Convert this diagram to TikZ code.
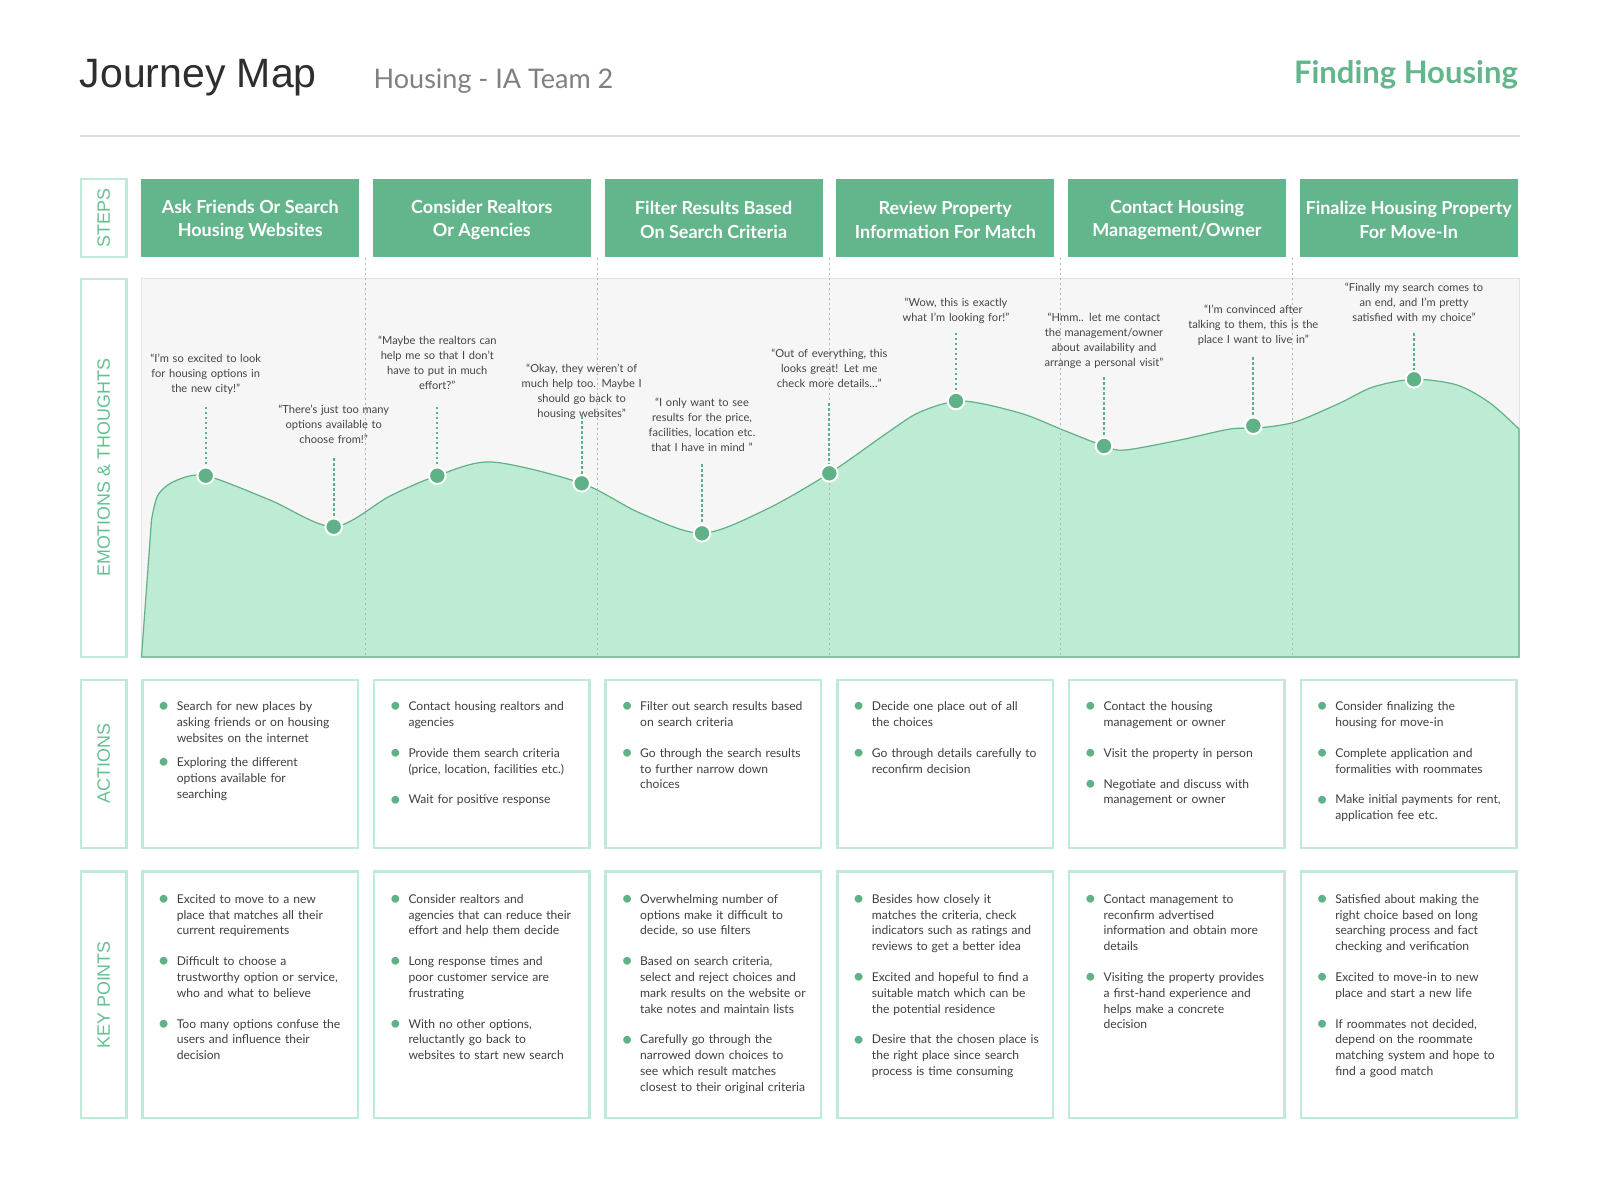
\documentclass[tikz,border=0pt]{standalone}
\usepackage{fontspec}
\setmainfont{Lato}
\newfontfamily\arialfont{Liberation Sans}

\definecolor{stepgreen}{HTML}{63B58B}
\definecolor{dotgreen}{HTML}{60B187}
\definecolor{areafill}{HTML}{BEEBD4}
\definecolor{mint}{HTML}{BDEBD6}
\definecolor{labelgreen}{HTML}{62C290}
\definecolor{paneltone}{HTML}{F6F6F6}
\definecolor{panelline}{HTML}{E4E4E4}
\definecolor{bodytext}{HTML}{3F3F3F}
\definecolor{quotetext}{HTML}{444444}
\definecolor{sepgray}{HTML}{B4B4B4}
\definecolor{titlegray}{HTML}{2E2E2E}
\definecolor{subgray}{HTML}{808080}
\definecolor{rulegray}{HTML}{DEDEDE}

% green bullet hanging to the left of an item
\newcommand\bdot{\leavevmode\llap{\textcolor{dotgreen}{\raisebox{-2.2pt}{\fontsize{21}{0}\selectfont\textbullet}}\hspace{7pt}}}
\newcommand\bnext[1][15pt]{\par\vspace{#1}\noindent\bdot}

\tikzset{
  stepbox/.style={fill=stepgreen, inner sep=0,
    minimum width=218, minimum height=78.5, anchor=north west},
  steptext/.style={align=center, inner sep=0, text=white,
    font=\fontsize{18}{23.5}\selectfont\bfseries},
  labelbox/.style={draw=mint, line width=2.5, rotate=90, inner sep=0,
    minimum height=45.5, text=labelgreen,
    font=\arialfont\fontsize{17.9}{17.9}\selectfont},
  cardbox/.style={draw=mint, line width=2.5, inner sep=0, anchor=north west,
    minimum width=215.5},
  listtext/.style={anchor=base west, text width=178, align=left, inner sep=0,
    text=bodytext, font=\fontsize{12.1}{15.8}\selectfont},
  quote/.style={anchor=base, text width=190, align=center, inner sep=0,
    text=quotetext, font=\fontsize{11.1}{15}\selectfont},
  dotmark/.style={circle, fill=dotgreen, draw=white, line width=2,
    minimum size=16.6, inner sep=0},
  dashlink/.style={dotgreen, line width=2, dash pattern=on 2.5pt off 2.5pt},
  separator/.style={sepgray, line width=1, dash pattern=on 1.5pt off 3.5pt},
}

\begin{document}
\begin{tikzpicture}[x=1pt,y=-1pt]
\path[use as bounding box, fill=white] (0,0) rectangle (1600,1200);

% header
\node[anchor=base west, inner sep=0, text=titlegray,
      font=\arialfont\fontsize{41}{41}\selectfont] (title) at (79.6,87) {Journey Map};
\node[anchor=base west, inner sep=0, text=subgray,
      font=\fontsize{27}{28}\selectfont] (subtitle) at (373.5,88) {Housing - IA Team 2};
\node[anchor=base east, inner sep=0, text=stepgreen,
      font=\fontsize{31}{31}\selectfont\bfseries] (topic) at (1518,83) {Finding Housing};
\draw[rulegray, line width=2] (79.6,135.7) -- (1519.5,135.7);

% row labels
\node[labelbox, minimum width=78] (lsteps) at (103.7,217.9) {STEPS};
\node[labelbox, minimum width=378] (lemo) at (103.7,467.9) {EMOTIONS \& THOUGHTS};
\node[labelbox, minimum width=167.9] (lact) at (103.7,763.8) {ACTIONS};
\node[labelbox, minimum width=246.5] (lkey) at (103.7,994.9) {KEY POINTS};

% steps
\node[stepbox] (s1) at (141,178.6) {};
\node[stepbox] (s2) at (372.7,178.6) {};
\node[stepbox] (s3) at (604.4,178.6) {};
\node[stepbox] (s4) at (836.1,178.6) {};
\node[stepbox] (s5) at (1067.8,178.6) {};
\node[stepbox] (s6) at (1299.5,178.6) {};
\node[steptext] (s1t) at ([yshift=-2]s1.center) {Ask Friends Or Search\\Housing Websites};
\node[steptext] (s2t) at ([yshift=-2]s2.center) {Consider Realtors\\Or Agencies};
\node[steptext] (s3t) at ([yshift=-2]s3.center) {Filter Results Based\\On Search Criteria};
\node[steptext] (s4t) at ([yshift=-2]s4.center) {Review Property\\Information For Match};
\node[steptext] (s5t) at ([yshift=-2]s5.center) {Contact Housing\\Management/Owner};
\node[steptext] (s6t) at ([yshift=-2]s6.center) {Finalize Housing Property\\For Move-In};

% emotions panel
\node[fill=paneltone, draw=panelline, line width=1, inner sep=0, anchor=north west,
      minimum width=1378, minimum height=379.4] (panel) at (141,277.6) {};

% emotion curve
\filldraw[fill=areafill, draw=dotgreen, line width=1.2]
  (141.5,657) -- (151.5,520) -- plot[smooth, tension=0.5] coordinates {
    (151.5,520) (158,495) (175,481) (205.7,475.7) (270,500) (333.7,526.7)
    (390,496) (437.3,475.7) (492,462) (581.7,483.3) (640,513) (702,533.3)
    (765,510) (829.3,473.3) (887,433) (920,412) (962,401) (1020,413)
    (1063,430) (1104,446) (1125,450) (1180,440) (1230,429) (1258,428)
    (1295,422) (1340,403) (1373,387) (1414,379.3) (1457,385) (1490,403)
    (1519,429)}
  -- (1519,657) -- cycle;

% column separators
\foreach \sx in {365.85,597.55,829.25,1060.95,1292.65}
  \draw[separator] (\sx,258) -- (\sx,657);

% quotes
\node[quote] (q1) at (205.7,362.6) {“I’m so excited to look\\for housing options in\\the new city!”};
\node[quote] (q2) at (333.7,413.6) {“There’s just too many\\options available to\\choose from!”};
\node[quote] (q3) at (437.3,344.6) {“Maybe the realtors can\\help me so that I don’t\\have to put in much\\effort?”};
\node[quote] (q4) at (581.7,372) {“Okay, they weren’t of\\much help too. Maybe I\\should go back to\\housing websites”};
\node[quote] (q5) at (702,406.6) {“I only want to see\\results for the price,\\facilities, location etc.\\that I have in mind ”};
\node[quote] (q6) at (829.3,357.3) {“Out of everything, this\\looks great! Let me\\check more details…”};
\node[quote] (q7) at (956,306.3) {“Wow, this is exactly\\what I’m looking for!”};
\node[quote] (q8) at (1104,321.6) {“Hmm.. let me contact\\the management/owner\\about availability and\\arrange a personal visit”};
\node[quote] (q9) at (1253.3,313.3) {“I’m convinced after\\talking to them, this is the\\place I want to live in”};
\node[quote] (q10) at (1414,291.6) {“Finally my search comes to\\an end, and I’m pretty\\satisfied with my choice”};

% dots on the curve
\node[dotmark] (d1) at (205.7,475.7) {};
\node[dotmark] (d2) at (333.7,526.7) {};
\node[dotmark] (d3) at (437.3,475.7) {};
\node[dotmark] (d4) at (581.7,483.3) {};
\node[dotmark] (d5) at (702,533.3) {};
\node[dotmark] (d6) at (829.3,473.3) {};
\node[dotmark] (d7) at (956,401) {};
\node[dotmark] (d8) at (1104,446) {};
\node[dotmark] (d9) at (1253.3,425.7) {};
\node[dotmark] (d10) at (1414,379.3) {};

% leader tops under each quote
\coordinate (t1) at (205.7,406.7);
\coordinate (t2) at (333.7,458.3);
\coordinate (t3) at (437.3,406.7);
\coordinate (t4) at (581.7,416);
\coordinate (t5) at (702,464.3);
\coordinate (t6) at (829.3,403.3);
\coordinate (t7) at (956,332.7);
\coordinate (t8) at (1104,377.3);
\coordinate (t9) at (1253.3,357.3);
\coordinate (t10) at (1414,333.3);
\foreach \k in {1,...,10}
  \draw[dashlink] (t\k) -- (d\k.north);

% actions
\node[cardbox, minimum height=167.9] (a1) at (141,678.6) {};
\node[cardbox, minimum height=167.9] (a2) at (372.7,678.6) {};
\node[cardbox, minimum height=167.9] (a3) at (604.4,678.6) {};
\node[cardbox, minimum height=167.9] (a4) at (836.1,678.6) {};
\node[cardbox, minimum height=167.9] (a5) at (1067.8,678.6) {};
\node[cardbox, minimum height=167.9] (a6) at (1299.5,678.6) {};

\node[listtext] (at1) at (176.6,710.6) {\bdot Search for new places by\newline asking friends or on housing\newline websites on the internet\bnext[8.5pt]Exploring the different\newline options available for\newline searching};
\node[listtext] (at2) at (408.3,710.6) {\bdot Contact housing realtors and\newline agencies\bnext Provide them search criteria\newline (price, location, facilities etc.)\bnext Wait for positive response};
\node[listtext] (at3) at (640,710.6) {\bdot Filter out search results based\newline on search criteria\bnext Go through the search results\newline to further narrow down\newline choices};
\node[listtext] (at4) at (871.7,710.6) {\bdot Decide one place out of all\newline the choices\bnext Go through details carefully to\newline reconfirm decision};
\node[listtext] (at5) at (1103.4,710.6) {\bdot Contact the housing\newline management or owner\bnext Visit the property in person\bnext Negotiate and discuss with\newline management or owner};
\node[listtext] (at6) at (1335.1,710.6) {\bdot Consider finalizing the\newline housing for move-in\bnext Complete application and\newline formalities with roommates\bnext Make initial payments for rent,\newline application fee etc.};

% key points
\node[cardbox, minimum height=246.5] (k1) at (141,870.4) {};
\node[cardbox, minimum height=246.5] (k2) at (372.7,870.4) {};
\node[cardbox, minimum height=246.5] (k3) at (604.4,870.4) {};
\node[cardbox, minimum height=246.5] (k4) at (836.1,870.4) {};
\node[cardbox, minimum height=246.5] (k5) at (1067.8,870.4) {};
\node[cardbox, minimum height=246.5] (k6) at (1299.5,870.4) {};

\node[listtext] (kt1) at (176.6,903.2) {\bdot Excited to move to a new\newline place that matches all their\newline current requirements\bnext Difficult to choose a\newline trustworthy option or service,\newline who and what to believe\bnext Too many options confuse the\newline users and influence their\newline decision};
\node[listtext] (kt2) at (408.3,903.2) {\bdot Consider realtors and\newline agencies that can reduce their\newline effort and help them decide\bnext Long response times and\newline poor customer service are\newline frustrating\bnext With no other options,\newline reluctantly go back to\newline websites to start new search};
\node[listtext] (kt3) at (640,903.2) {\bdot Overwhelming number of\newline options make it difficult to\newline decide, so use filters\bnext Based on search criteria,\newline select and reject choices and\newline mark results on the website or\newline take notes and maintain lists\bnext Carefully go through the\newline narrowed down choices to\newline see which result matches\newline closest to their original criteria};
\node[listtext] (kt4) at (871.7,903.2) {\bdot Besides how closely it\newline matches the criteria, check\newline indicators such as ratings and\newline reviews to get a better idea\bnext Excited and hopeful to find a\newline suitable match which can be\newline the potential residence\bnext Desire that the chosen place is\newline the right place since search\newline process is time consuming};
\node[listtext] (kt5) at (1103.4,903.2) {\bdot Contact management to\newline reconfirm advertised\newline information and obtain more\newline details\bnext Visiting the property provides\newline a first-hand experience and\newline helps make a concrete\newline decision};
\node[listtext] (kt6) at (1335.1,903.2) {\bdot Satisfied about making the\newline right choice based on long\newline searching process and fact\newline checking and verification\bnext Excited to move-in to new\newline place and start a new life\bnext If roommates not decided,\newline depend on the roommate\newline matching system and hope to\newline find a good match};
\end{tikzpicture}
\end{document}
